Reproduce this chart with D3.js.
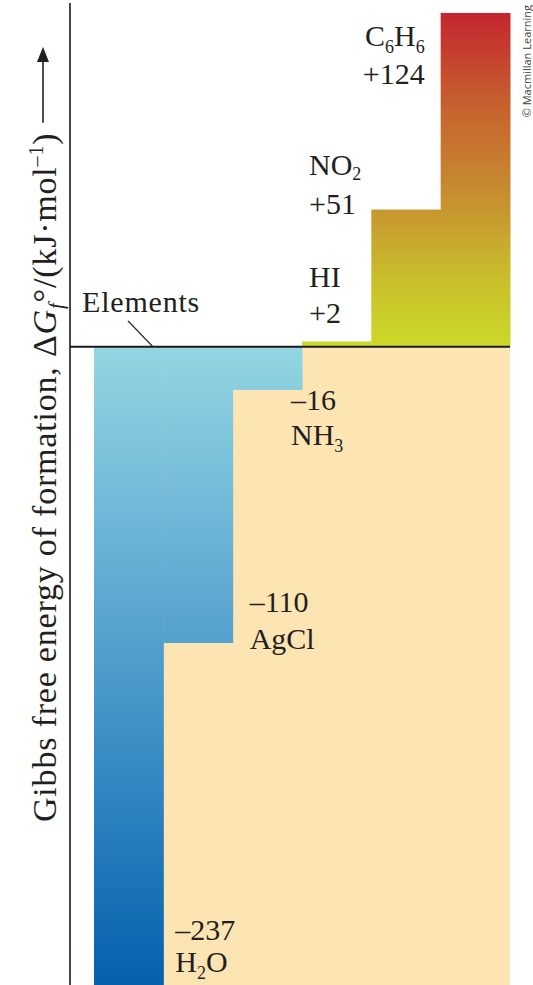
<!DOCTYPE html>
<html><head><meta charset="utf-8">
<script src="https://cdn.jsdelivr.net/npm/d3@7"></script>
<style>html,body{margin:0;padding:0;background:#fff;} svg{display:block;}</style>
</head><body>
<svg id="chart" width="533" height="985"></svg>
<script>
// ---- data ----
const categories = ["H2O", "AgCl", "NH3", "HI", "NO2", "C6H6"];
const values = [-237, -110, -16, 2, 51, 124];
const valueLabels = ["–237", "–110", "–16", "+2", "+51", "+124"];
const baselineLabel = "Elements";
const credit = "© Macmillan Learning";

// ---- layout / style ----
const W = 533, H = 985;
const serif = "'Liberation Serif','Times New Roman',serif";
const FS = 30;
const svg = d3.select("#chart");

const x = d3.scaleBand().domain(categories).range([94, 510]).padding(0);
const y = d3.scaleLinear().domain([d3.min(values), d3.max(values)]).range([985, 13]);
const y0 = y(0);

const defs = svg.append("defs");
const neg = defs.append("linearGradient").attr("id", "negGrad")
  .attr("gradientUnits", "userSpaceOnUse")
  .attr("x1", 0).attr("x2", 0).attr("y1", y0).attr("y2", y(d3.min(values)));
[[0, "#93d6e2"], [0.45, "#55a2cf"], [1, "#0560ad"]].forEach(([o, c]) =>
  neg.append("stop").attr("offset", o).attr("stop-color", c));
const pos = defs.append("linearGradient").attr("id", "posGrad")
  .attr("gradientUnits", "userSpaceOnUse")
  .attr("x1", 0).attr("x2", 0).attr("y1", y0).attr("y2", y(d3.max(values)));
[[0, "#cbd928"], [0.2, "#c9bf2b"], [0.45, "#c78f30"], [0.75, "#c65c2e"], [1, "#c4252f"]].forEach(([o, c]) =>
  pos.append("stop").attr("offset", o).attr("stop-color", c));

// beige background below the elements line
svg.append("rect")
  .attr("x", x.range()[0]).attr("y", y0)
  .attr("width", x.range()[1] - x.range()[0]).attr("height", H - y0)
  .attr("fill", "#fde5b3");

const data = categories.map((c, i) => ({ c, v: values[i], lab: valueLabels[i] }));

svg.selectAll("rect.bar").data(data).join("rect")
  .attr("class", "bar")
  .attr("x", d => x(d.c))
  .attr("width", x.bandwidth() + 0.5)
  .attr("y", d => Math.min(y(d.v), y0))
  .attr("height", d => Math.abs(y(d.v) - y0))
  .attr("fill", d => d.v < 0 ? "url(#negGrad)" : "url(#posGrad)");

// axis line and elements line
svg.append("line").attr("x1", 70).attr("x2", 70).attr("y1", 3).attr("y2", H)
  .attr("stroke", "#1a1a1a").attr("stroke-width", 1.6);
svg.append("line").attr("x1", 70).attr("x2", x.range()[1]).attr("y1", y0).attr("y2", y0)
  .attr("stroke", "#1a1a1a").attr("stroke-width", 2);

// Elements label + leader
svg.append("text").attr("x", 82).attr("y", y0 - 35)
  .attr("font-family", serif).attr("font-size", FS).attr("letter-spacing", 0.8).attr("fill", "#231f20")
  .text(baselineLabel);
svg.append("line").attr("x1", 128).attr("y1", y0 - 26).attr("x2", 153).attr("y2", y0)
  .attr("stroke", "#231f20").attr("stroke-width", 1.4);

// formula writer: digits become subscripts
function writeFormula(sel, str, subDy) {
  const parts = str.split(/(\d+)/).filter(s => s.length);
  let shifted = false;
  parts.forEach(p => {
    const isSub = /^\d+$/.test(p);
    const t = sel.append("tspan").text(p);
    if (isSub) { t.attr("font-size", FS * 0.6).attr("dy", subDy); shifted = true; }
    else if (shifted) { t.attr("dy", -subDy); shifted = false; }
  });
}

// label placement (offsets from bar corners)
const labelLayout = {
  C6H6: { anchor: "end", xRef: d => x(d.c) - 16, name: d => y(d.v) + 33, val: d => y(d.v) + 71, sub: 7 },
  NO2:  { anchor: "start", xRef: d => x("HI") + 7, name: d => y(d.v) - 35, val: d => y(d.v) + 4, sub: 5 },
  HI:   { anchor: "start", xRef: d => x(d.c) + 7, name: d => y0 - 60, val: d => y0 - 24, sub: 8 },
  NH3:  { anchor: "start", xRef: d => x(d.c) + x.bandwidth() - 11, val: d => y(d.v) + 20, name: d => y(d.v) + 55, sub: 7 },
  AgCl: { anchor: "start", xRef: d => x(d.c) + x.bandwidth() + 17, val: d => y(d.v) - 31, name: d => y(d.v) + 6, sub: 7 },
  H2O:  { anchor: "start", xRef: d => x(d.c) + x.bandwidth() + 12, val: d => y(d.v) - 45, name: d => y(d.v) - 13, sub: 7 }
};

data.forEach(d => {
  const L = labelLayout[d.c];
  const g = svg.append("g").attr("font-family", serif).attr("font-size", FS)
    .attr("fill", "#231f20").attr("text-anchor", L.anchor);
  const nameT = g.append("text").attr("x", L.xRef(d)).attr("y", L.name(d));
  writeFormula(nameT, d.c, L.sub);
  g.append("text").attr("x", L.xRef(d)).attr("y", L.val(d)).text(d.lab);
});

// y-axis title (rotated)
const tg = svg.append("g").attr("transform", "translate(56,822) rotate(-90)");
const title = tg.append("text").attr("x", 0).attr("y", 0)
  .attr("font-family", serif).attr("font-size", 34).attr("letter-spacing", 0.8)
  .attr("fill", "#231f20");
title.append("tspan").text("Gibbs free energy of formation, Δ");
title.append("tspan").attr("font-style", "italic").text("G");
title.append("tspan").attr("font-style", "italic").attr("font-size", 21).attr("dy", 7).text("f");
title.append("tspan").attr("dy", -7).text("°/(kJ·mol");
title.append("tspan").attr("font-size", 20).attr("dy", -13).text("–1");
title.append("tspan").attr("dy", 13).text(")");
const tl = title.node().getComputedTextLength();
const tipX = 822 - 47;
tg.append("line").attr("x1", Math.min(tl + 10, tipX - 40)).attr("x2", tipX - 12).attr("y1", -13).attr("y2", -13)
  .attr("stroke", "#231f20").attr("stroke-width", 1.6);
tg.append("path")
  .attr("d", `M${tipX},-13 L${tipX - 15},-19 L${tipX - 15},-7 Z`)
  .attr("fill", "#231f20");

// credit
svg.append("text").attr("transform", "translate(531,5) rotate(-90)")
  .attr("text-anchor", "end").attr("font-family", "'Open Sans','Noto Sans',sans-serif")
  .attr("font-size", 11).attr("fill", "#444").text(credit);
</script>
</body></html>
